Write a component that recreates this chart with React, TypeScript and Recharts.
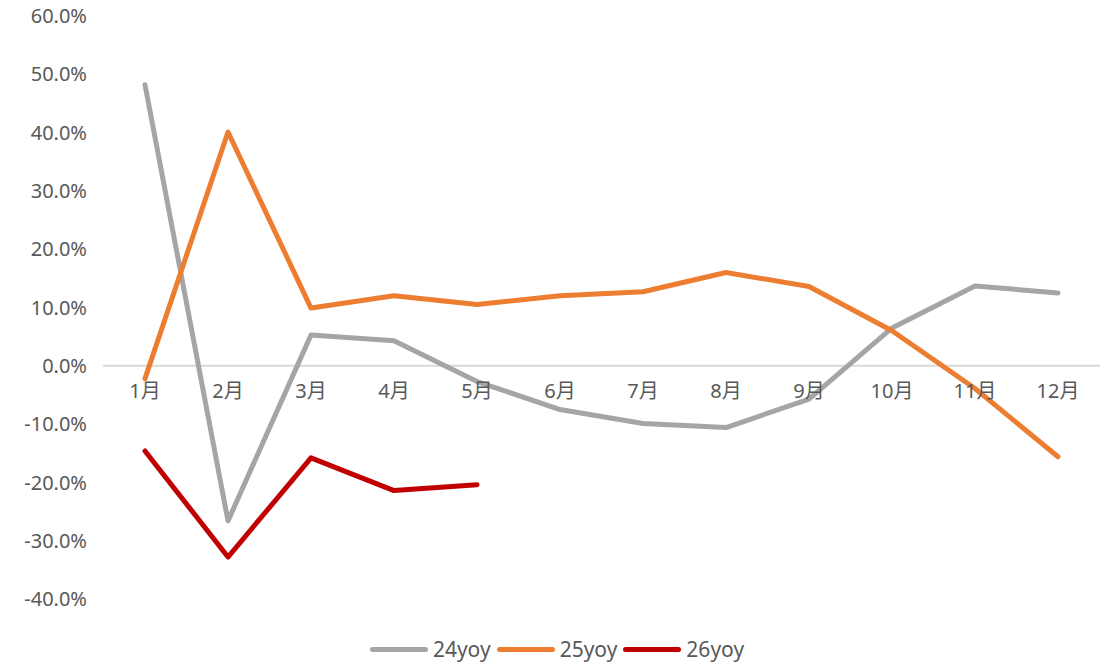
import React from 'react';
import { LineChart, Line, XAxis, YAxis, ReferenceLine, ReferenceDot, Legend } from 'recharts';

const months = ['1月', '2月', '3月', '4月', '5月', '6月', '7月', '8月', '9月', '10月', '11月', '12月'];
const yoy24 = [48.2, -26.6, 5.3, 4.3, -2.7, -7.5, -9.9, -10.6, -5.7, 6.5, 13.7, 12.5];
const yoy25 = [-2.2, 40.1, 9.9, 12.0, 10.5, 12.0, 12.7, 16.0, 13.6, 6.0, -3.9, -15.6];
const yoy26: (number | null)[] = [-14.6, -32.8, -15.8, -21.4, -20.4, null, null, null, null, null, null, null];
const yTicks = [-40, -30, -20, -10, 0, 10, 20, 30, 40, 50, 60];

const data = months.map((m, i) => ({ month: m, y24: yoy24[i], y25: yoy25[i], y26: yoy26[i] }));

const FONT = '"Noto Sans", "Noto Sans CJK SC", sans-serif';
const TEXT = '#595959';

const renderLegend = (props: any) => {
  const { payload } = props;
  return (
    <div style={{ display: 'flex', justifyContent: 'center', alignItems: 'center', fontFamily: FONT, paddingTop: 27, paddingLeft: 14 }}>
      {payload.map((p: any, i: number) => (
        <div key={p.value} style={{ display: 'flex', alignItems: 'center', marginLeft: i === 0 ? 0 : 6 }}>
          <span style={{ display: 'inline-block', width: 58, height: 5, borderRadius: 3, background: p.color, marginRight: 5 }} />
          <span style={{ fontSize: 21, color: TEXT, lineHeight: '26px' }}>{p.value}</span>
        </div>
      ))}
    </div>
  );
};

export default function App() {
  return (
    <div style={{ position: 'absolute', left: 0, top: 0, width: 1114, height: 666, background: '#fff' }}>
      <LineChart width={1114} height={666} data={data} margin={{ top: 16, right: 14, left: 0, bottom: 0 }}>
        <XAxis dataKey="month" tick={false} axisLine={false} tickLine={false} height={10} padding={{ left: 42, right: 42 }} />
        <YAxis
          width={103}
          domain={[-40, 60]}
          ticks={yTicks}
          interval={0}
          axisLine={false}
          tickLine={false}
          tickMargin={10}
          tickFormatter={(v: number) => v.toFixed(1) + '%'}
          tick={{ fill: TEXT, fontSize: 20, fontFamily: FONT }}
        />
        <ReferenceLine y={0} stroke="#d9d9d9" strokeWidth={2} />
        {months.map((m) => (
          <ReferenceDot
            key={m}
            x={m}
            y={0}
            r={0}
            fill="none"
            stroke="none"
            label={{ value: m, position: 'bottom', offset: 18, fill: TEXT, fontSize: 20, fontFamily: FONT }}
          />
        ))}
        <Line type="linear" dataKey="y24" name="24yoy" stroke="#A5A5A5" strokeWidth={5} dot={false} isAnimationActive={false} strokeLinecap="round" strokeLinejoin="round" />
        <Line type="linear" dataKey="y25" name="25yoy" stroke="#ED7D31" strokeWidth={5} dot={false} isAnimationActive={false} strokeLinecap="round" strokeLinejoin="round" />
        <Line type="linear" dataKey="y26" name="26yoy" stroke="#C00000" strokeWidth={5} dot={false} isAnimationActive={false} strokeLinecap="round" strokeLinejoin="round" />
        <Legend verticalAlign="bottom" height={57} content={renderLegend} />
      </LineChart>
    </div>
  );
}
